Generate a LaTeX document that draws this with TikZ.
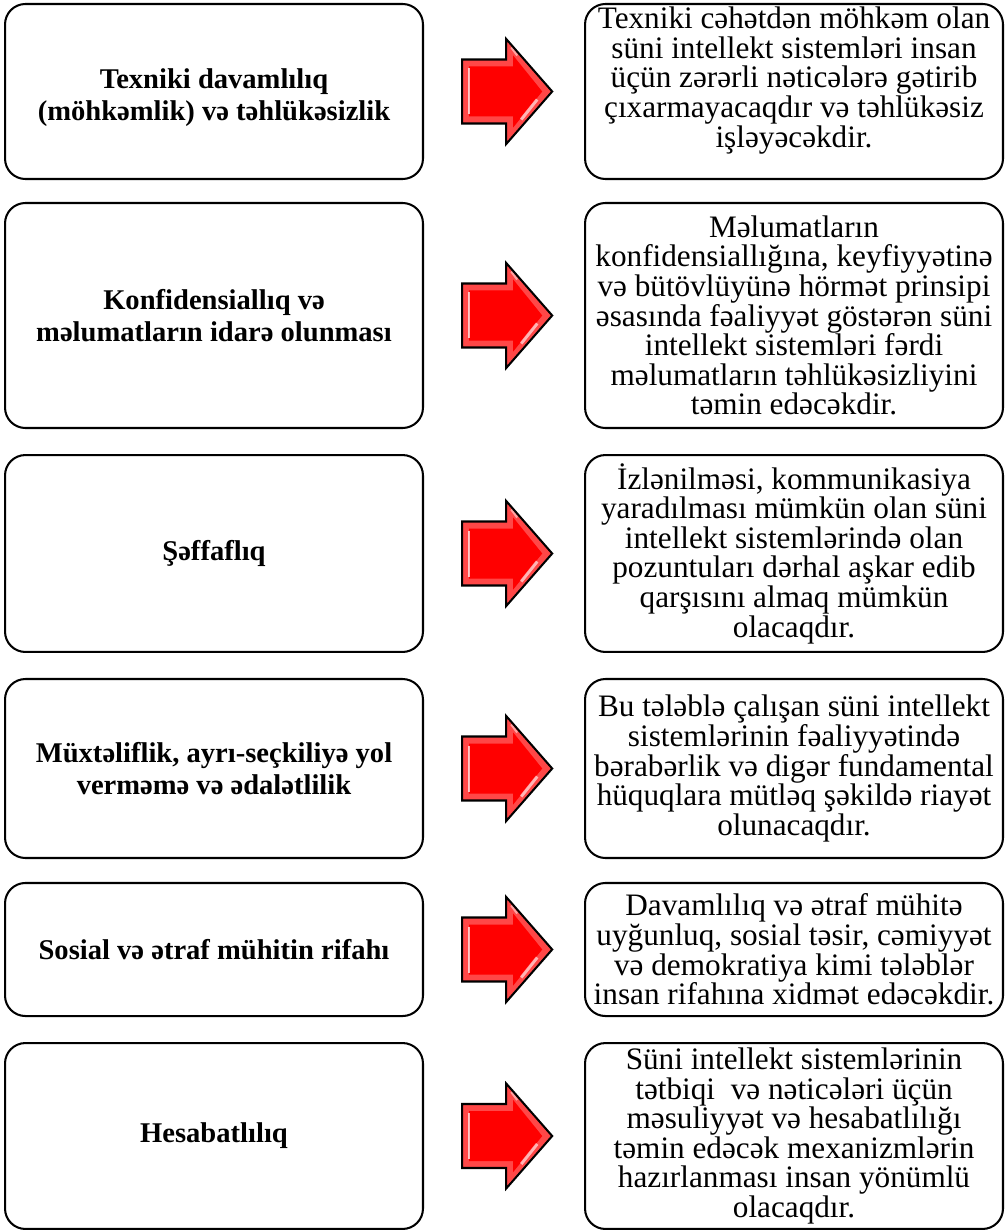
\documentclass[tikz,border=0pt]{standalone}
\usepackage{fontspec}
\setmainfont{Liberation Serif}
\usetikzlibrary{positioning,calc}

% red block arrow with a bevelled face, centred on a coordinate
\newcommand{\redarrow}[1]{%
  \begin{scope}[shift={(#1)}]
    \fill[red!72!white] (-45,-32) -- (-1,-32) -- (-1,-52.5) -- (45,0) -- (-1,52.5) -- (-1,32) -- (-45,32) -- cycle;
    \fill[red] (-38,-25) -- (6,-25) -- (6,-36) -- (35,0) -- (6,36) -- (6,25) -- (-38,25) -- cycle;
    \draw[white, opacity=0.7, line width=1.2pt] (-38,-23) -- (-38,23);
    \draw[white, opacity=0.6, line width=1.5pt] (30,8) -- (14,28);
    \draw[white, opacity=0.5, line width=1pt] (4,-44) -- (10,-36);
    \draw[line width=1pt, line join=miter] (-45,-32) -- (-1,-32) -- (-1,-52.5) -- (45,0) -- (-1,52.5) -- (-1,32) -- (-45,32) -- cycle;
  \end{scope}}

\begin{document}
\begin{tikzpicture}[x=0.49pt, y=-0.49pt,
    box/.style={draw, line width=1pt, rounded corners=10pt, minimum width=204.8pt, align=center, inner sep=1pt},
    principle/.style={box, font=\bfseries\fontsize{14}{15.7}\selectfont},
    principletext/.style={align=center, inner sep=0pt, font=\bfseries\fontsize{14}{15.7}\selectfont},
    meaning/.style={box, font=\fontsize{15.3}{14.5}\selectfont},
    meaningtext/.style={align=center, inner sep=0pt, font=\fontsize{15.3}{14.5}\selectfont}]
  \useasboundingbox (0,0) rectangle (1007,1231);

  \node[box, minimum height=85.75pt] (P1) at (214,91.5) {};
  \node[principletext] (S1) at ($(P1)+(0,6)$) {Texniki davamlılıq\\(möhkəmlik) və təhlükəsizlik};
  \node[box, minimum height=85.75pt] (E1) at (794,91.5) {};
  \node[meaningtext] (T1) at ($(E1)+(0,-11)$) {Texniki cəhətdən möhkəm olan\\süni intellekt sistemləri insan\\üçün zərərli nəticələrə gətirib\\çıxarmayacaqdır və təhlükəsiz\\işləyəcəkdir.};

  \node[principle, minimum height=110.25pt] (P2) at (214,315.5) {Konfidensiallıq və\\məlumatların idarə olunması};
  \node[meaning, minimum height=110.25pt] (E2) at (794,315.5) {Məlumatların\\konfidensiallığına, keyfiyyətinə\\və bütövlüyünə hörmət prinsipi\\əsasında fəaliyyət göstərən süni\\intellekt sistemləri fərdi\\məlumatların təhlükəsizliyini\\təmin edəcəkdir.};

  \node[principle, minimum height=96.5pt] (P3) at (214,553.5) {Şəffaflıq};
  \node[meaning, minimum height=96.5pt] (E3) at (794,553.5) {İzlənilməsi, kommunikasiya\\yaradılması mümkün olan süni\\intellekt sistemlərində olan\\pozuntuları dərhal aşkar edib\\qarşısını almaq mümkün\\olacaqdır.};

  \node[principle, minimum height=87.7pt] (P4) at (214,768.5) {Müxtəliflik, ayrı-seçkiliyə yol\\verməmə və ədalətlilik};
  \node[meaning, minimum height=87.7pt] (E4) at (794,768.5) {Bu tələblə çalışan süni intellekt\\sistemlərinin fəaliyyətində\\bərabərlik və digər fundamental\\hüquqlara mütləq şəkildə riayət\\olunacaqdır.};

  \node[principle, minimum height=65.2pt] (P5) at (214,949.5) {Sosial və ətraf mühitin rifahı};
  \node[meaning, minimum height=65.2pt] (E5) at (794,949.5) {Davamlılıq və ətraf mühitə\\uyğunluq, sosial təsir, cəmiyyət\\və demokratiya kimi tələblər\\insan rifahına xidmət edəcəkdir.};

  \node[principle, minimum height=91.1pt] (P6) at (214,1136) {Hesabatlılıq};
  \node[meaning, minimum height=91.1pt] (E6) at (794,1136) {Süni intellekt sistemlərinin\\tətbiqi\ \ və nəticələri üçün\\məsuliyyət və hesabatlılığı\\təmin edəcək mexanizmlərin\\hazırlanması insan yönümlü\\olacaqdır.};

  % arrows between each principle and its meaning
  \coordinate (A1) at ($(P1.east)!0.52!(E1.west)$);
  \coordinate (A2) at ($(P2.east)!0.52!(E2.west)$);
  \coordinate (A3) at ($(P3.east)!0.52!(E3.west)$);
  \coordinate (A4) at ($(P4.east)!0.52!(E4.west)$);
  \coordinate (A5) at ($(P5.east)!0.52!(E5.west)$);
  \coordinate (A6) at ($(P6.east)!0.52!(E6.west)$);
  \redarrow{A1}
  \redarrow{A2}
  \redarrow{A3}
  \redarrow{A4}
  \redarrow{A5}
  \redarrow{A6}
\end{tikzpicture}
\end{document}
